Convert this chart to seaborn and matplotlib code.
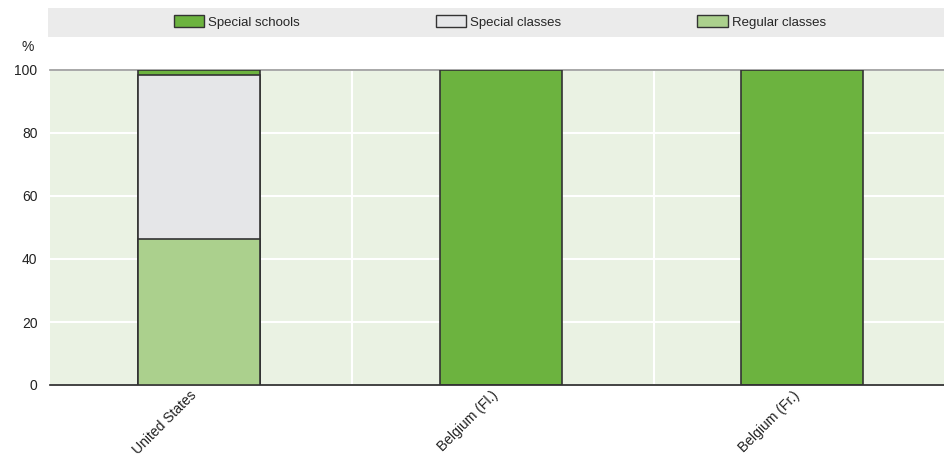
import numpy as np
import pandas as pd
import seaborn as sns
import matplotlib.pyplot as plt
from matplotlib.patches import Rectangle, Patch
from matplotlib.ticker import MultipleLocator, FixedLocator
from matplotlib.transforms import ScaledTranslation

countries = ["United States", "Belgium (Fl.)", "Belgium (Fr.)"]
special_schools = [1.6, 100.0, 100.0]
special_classes = [51.9, 0.0, 0.0]
regular_classes = [46.5, 0.0, 0.0]

c_schools = "#6cb33f"
c_sclass = "#e5e6e8"
c_regular = "#abd08d"
edge = "#333333"

sns.set_theme(style="white")
plt.rcParams['font.family'] = ['Liberation Sans Narrow', 'Liberation Sans', 'DejaVu Sans']

df = pd.DataFrame({
    "country": countries,
    "regular": regular_classes,
    "sclass": np.array(regular_classes) + np.array(special_classes),
    "total": np.array(regular_classes) + np.array(special_classes) + np.array(special_schools),
})

fig = plt.figure(figsize=(9.44, 4.68), dpi=100)
ax = fig.add_axes([50 / 944, 1 - 385 / 468, 894 / 944, 315 / 468])
ax.set_facecolor("#eaf2e3")

# stacked bars: draw cumulative totals from tallest to shortest
for col, color in [("total", c_schools), ("sclass", c_sclass), ("regular", c_regular)]:
    sns.barplot(data=df, x="country", y=col, color=color, width=0.405,
                edgecolor=edge, linewidth=1.2, saturation=1, ax=ax, zorder=3)

ax.set_ylim(0, 100)
ax.set_xlim(-0.494, 2.47)
ax.yaxis.set_major_locator(MultipleLocator(20))
ax.xaxis.set_minor_locator(FixedLocator([0.507, 1.507]))
ax.grid(True, axis="y", color="white", linewidth=1.5, zorder=0)
ax.grid(True, axis="x", which="minor", color="white", linewidth=1.5, zorder=0)
ax.set_axisbelow(True)
ax.set_xlabel("")
ax.set_ylabel("")

for s in ["left", "right"]:
    ax.spines[s].set_visible(False)
ax.spines["top"].set_color("#9a9a9a")
ax.spines["top"].set_linewidth(1.2)
ax.spines["bottom"].set_color("#222222")
ax.spines["bottom"].set_linewidth(1.2)

ax.tick_params(axis="y", length=0, labelsize=10, colors="#222222", pad=9)
ax.tick_params(axis="x", which="major", length=0, labelsize=10, colors="#222222", pad=6)
ax.tick_params(axis="x", which="minor", length=5, direction="in", color="#222222", width=1)
shift = ScaledTranslation(-5 / 100, 0, fig.dpi_scale_trans)
for lab in ax.get_xticklabels():
    lab.set_rotation(45)
    lab.set_ha("right")
    lab.set_va("center")
    lab.set_rotation_mode("anchor")
    lab.set_transform(lab.get_transform() + shift)

fig.text(28 / 944, 1 - 47 / 468, "%", fontsize=10, color="#222222", ha="center", va="center")

# legend band
fig.patches.append(Rectangle((48 / 944, 1 - 37 / 468), 1, 29 / 468,
                             transform=fig.transFigure, facecolor="#ebebeb",
                             edgecolor="none", zorder=0))
handles = [Patch(facecolor=c_schools, edgecolor=edge, label="Special schools"),
           Patch(facecolor=c_sclass, edgecolor=edge, label="Special classes"),
           Patch(facecolor=c_regular, edgecolor=edge, label="Regular classes")]
fig.legend(handles=handles, loc="center", bbox_to_anchor=(500 / 944, 1 - 22 / 468),
           ncol=3, frameon=False, fontsize=9.5, handlelength=2.3, handleheight=0.95,
           handletextpad=0.3, columnspacing=10.3)

fig.savefig("out.png", dpi=100)
